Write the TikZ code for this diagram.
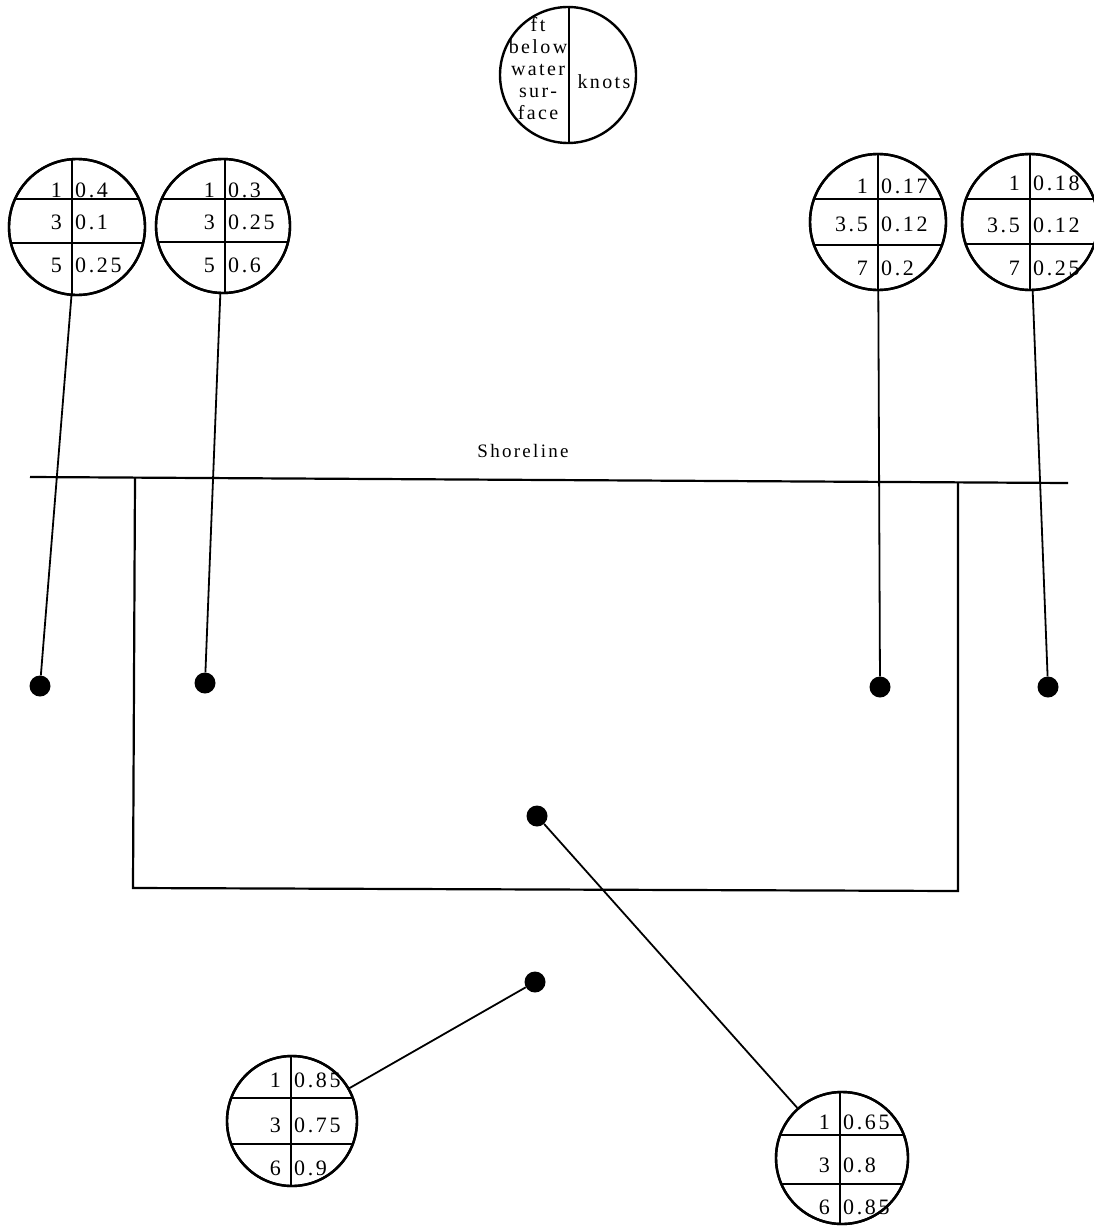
\documentclass[tikz,border=0pt]{standalone}
\usepackage{fontspec}
\setmainfont{Liberation Serif}[LetterSpace=12]
\usetikzlibrary{calc}
\tikzset{
  gc/.style={circle, draw, line width=2.4pt, inner sep=0pt},
  ln/.style={line width=2.2pt},
  lead/.style={line width=1.8pt},
  dot/.style={circle, fill, inner sep=0pt, minimum size=21pt},
  num/.style={inner sep=0pt, font=\fontsize{22}{24}\selectfont},
}
% #1 name, #2 x, #3 y, #4 radius, #5 vertical line offset, #6 #7 chord offsets
\newcommand\gauge[7]{%
  \node[gc, minimum size={2*#4pt}] (#1) at (#2,#3) {};
  \coordinate (#1v) at ($(#1)+(#5,0)$);
  \begin{scope}
    \clip (#1) circle[radius=#4];
    \draw[ln] ($(#1v)+(0,-#4)$) -- ($(#1v)+(0,#4)$);
    \draw[ln] ($(#1)+(-#4,#6)$) -- ($(#1)+(#4,#6)$);
    \draw[ln] ($(#1)+(-#4,#7)$) -- ($(#1)+(#4,#7)$);
  \end{scope}
  \draw[line width=2.4pt] (#1) circle[radius=#4];
}
% #1 circle, #2 tag, #3 dy, #4 depth text, #5 speed text
\newcommand\gaugerow[5]{%
  \node[num, anchor=east] (#1#2l) at ($(#1v)+(-10,#3)$) {#4};
  \node[num, anchor=west] (#1#2r) at ($(#1v)+(3,#3)$) {#5};
}
\begin{document}
\begin{tikzpicture}[x=1pt, y=-1pt]
\useasboundingbox[fill=white] (0,0) rectangle (1093,1228);

% legend
\node[gc, minimum size=136pt] (leg) at (568,75) {};
\draw[ln] ($(leg.north)+(1,0)$) -- ($(leg.south)+(1,0)$);
\node[num, align=center, font=\fontsize{20}{22}\selectfont] (legl) at (538,69) {ft\\below\\water\\sur-\\face};
\node[num, font=\fontsize{20}{22}\selectfont] (legr) at (604,82) {knots};

% gauges
\gauge{ca}{77}{227}{68}{-5}{-28}{16}
\gaugerow{ca}{a}{-37}{1}{0.4}
\gaugerow{ca}{b}{-5}{3}{0.1}
\gaugerow{ca}{c}{38}{5}{0.25}

\gauge{cb}{223}{226}{67}{2}{-27}{16}
\gaugerow{cb}{a}{-36}{1}{0.3}
\gaugerow{cb}{b}{-4}{3}{0.25}
\gaugerow{cb}{c}{39}{5}{0.6}

\gauge{cc}{878}{222}{68}{0}{-23}{23}
\gaugerow{cc}{a}{-36}{1}{0.17}
\gaugerow{cc}{b}{2}{3.5}{0.12}
\gaugerow{cc}{c}{46}{7}{0.2}

\gauge{cd}{1030}{222}{68}{0}{-23}{22}
\gaugerow{cd}{a}{-39}{1}{0.18}
\gaugerow{cd}{b}{3}{3.5}{0.12}
\gaugerow{cd}{c}{46}{7}{0.25}

\gauge{ce}{292}{1121}{65}{-1}{-23}{23}
\gaugerow{ce}{a}{-41}{1}{0.85}
\gaugerow{ce}{b}{4}{3}{0.75}
\gaugerow{ce}{c}{47}{6}{0.9}

\gauge{cf}{842}{1158}{66}{-2}{-23}{26}
\gaugerow{cf}{a}{-36}{1}{0.65}
\gaugerow{cf}{b}{7}{3}{0.8}
\gaugerow{cf}{c}{49}{6}{0.85}

% dots
\node[dot] (da) at (40,686) {};
\node[dot] (db) at (205,683) {};
\node[dot] (dc) at (880,687) {};
\node[dot] (dd) at (1048,687) {};
\node[dot] (de) at (535,982) {};
\node[dot] (df) at (537,816) {};

% leads
\draw[lead] (ca) -- (da);
\draw[lead] (cb) -- (db);
\draw[lead] (cc) -- (dc);
\draw[lead] (cd) -- (dd);
\draw[lead] (ce) -- (de);
\draw[lead] (cf) -- (df);

% shoreline and basin
\coordinate (sl) at (30,477);
\coordinate (sr) at (1068,483);
\draw[ln] (sl) -- (sr);
\node[num, font=\fontsize{19}{22}\selectfont] (shore) at (523,451) {Shoreline};
\coordinate (ul) at (135,478);
\coordinate (bl) at (133,888);
\coordinate (br) at (958,891);
\coordinate (ur) at (958,483);
\draw[ln] (ul) -- (bl) -- (br) -- (ur);
\end{tikzpicture}
\end{document}
